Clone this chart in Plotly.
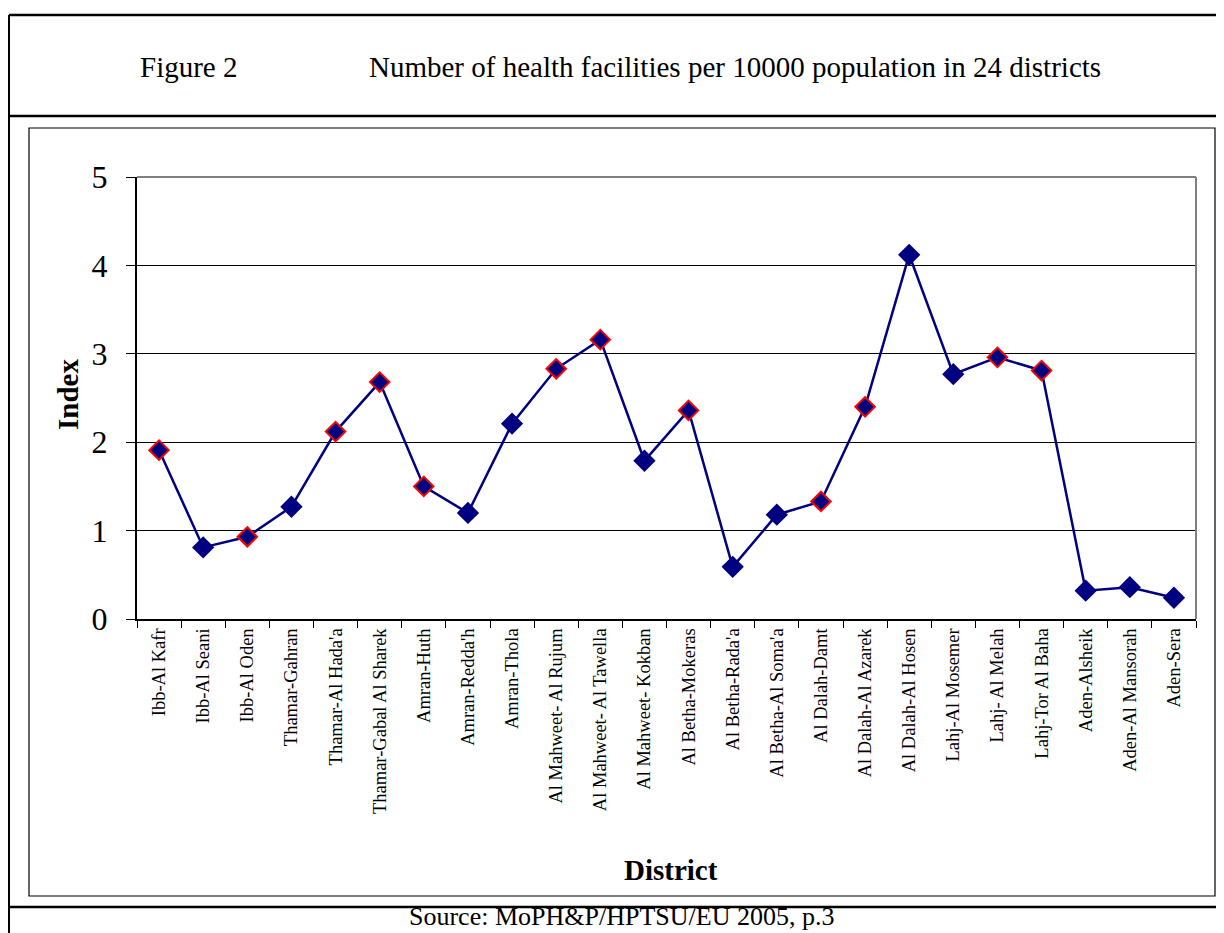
import plotly.graph_objects as go

districts = ["Ibb-Al Kafr", "Ibb-Al Seani", "Ibb-Al Oden", "Thamar-Gahran", "Thamar-Al Hada'a",
             "Thamar-Gabal Al Sharek", "Amran-Huth", "Amran-Redda'h", "Amran-Thola",
             "Al Mahweet- Al Rujum", "Al Mahweet- Al Tawella", "Al Mahweet- Kokban",
             "Al Betha-Mokeras", "Al Betha-Rada'a", "Al Betha-Al Soma'a", "Al Dalah-Damt",
             "Al Dalah-Al Azarek", "Al Dalah-Al Hosen", "Lahj-Al Mosemer", "Lahj- Al Melah",
             "Lahj-Tor Al Baha", "Aden-Alsheik", "Aden-Al Mansorah", "Aden-Sera"]
index_values = [1.91, 0.81, 0.93, 1.27, 2.12, 2.68, 1.50, 1.20, 2.21, 2.83, 3.16, 1.79,
                2.36, 0.59, 1.18, 1.33, 2.40, 4.12, 2.77, 2.96, 2.81, 0.32, 0.36, 0.24]
highlighted = [True, False, True, False, True, True, True, False, False, True, True, False,
               True, False, False, True, True, False, False, True, True, False, False, False]
y_ticks = [0, 1, 2, 3, 4, 5]

NAVY = "#000080"
SERIF = "Liberation Serif, Times New Roman, serif"

OFF = 8  # default page body margin
W, H = 1224, 933
L, R, T, B = 137, 1196, 177, 619

def px(x):
    return (x - L) / (R - L)

def py(y):
    return (B - y) / (B - T)

fig = go.Figure()
fig.add_trace(go.Scatter(
    x=districts, y=index_values, mode="lines+markers",
    line=dict(color=NAVY, width=2.5),
    marker=dict(symbol="diamond", size=15, color=NAVY,
                line=dict(color=["#ff0000" if h else NAVY for h in highlighted], width=2)),
    showlegend=False, hoverinfo="x+y"))

fig.update_layout(
    width=W - OFF, height=H - OFF,
    margin=dict(l=L - OFF, r=W - R, t=T - OFF, b=H - B, pad=0),
    paper_bgcolor="white", plot_bgcolor="white",
    font=dict(family=SERIF, color="black"),
    xaxis=dict(type="category", tickangle=-90, tickfont=dict(size=18.5, family=SERIF),
               ticks="outside", ticklen=7, tickcolor="black", tickson="boundaries",
               showgrid=False, showline=True, linecolor="black", linewidth=2,
               range=[-0.5, len(districts) - 0.5], fixedrange=True),
    yaxis=dict(range=[0, 5], tickvals=y_ticks, tickfont=dict(size=32, family=SERIF),
               ticks="outside", ticklen=9, tickcolor="black", ticklabelstandoff=12,
               showgrid=True, gridcolor="black", gridwidth=1,
               showline=True, linecolor="black", linewidth=2, zeroline=False, fixedrange=True),
)

shapes = []
# plot area gray border (top/right)
shapes.append(dict(type="line", xref="paper", yref="paper", x0=0, x1=1, y0=1, y1=1,
                   line=dict(color="#808080", width=2)))
shapes.append(dict(type="line", xref="paper", yref="paper", x0=1, x1=1, y0=0, y1=1,
                   line=dict(color="#808080", width=2)))
# inner chart frame
shapes.append(dict(type="rect", xref="paper", yref="paper", x0=px(29), x1=px(1215), y0=py(896), y1=py(128),
                   line=dict(color="black", width=1.2)))
# outer table lines
for yy in [15, 116, 907]:
    shapes.append(dict(type="line", xref="paper", yref="paper", x0=px(9), x1=px(1240), y0=py(yy), y1=py(yy),
                       line=dict(color="black", width=2.5)))
shapes.append(dict(type="line", xref="paper", yref="paper", x0=px(9), x1=px(9), y0=py(15), y1=py(950),
                   line=dict(color="black", width=2)))
fig.update_layout(shapes=shapes)

annotations = [
    dict(text="Figure 2", x=px(138), y=py(67), xanchor="left", yanchor="middle",
         font=dict(size=29, family=SERIF)),
    dict(text="Number of health facilities per 10000 population in 24 districts",
         x=px(367), y=py(67), xanchor="left", yanchor="middle", font=dict(size=29, family=SERIF)),
    dict(text="<b>Index</b>", x=px(68), y=py(395), xanchor="center", yanchor="middle", textangle=-90,
         font=dict(size=29, family=SERIF)),
    dict(text="<b>District</b>", x=px(671), y=py(870), xanchor="center", yanchor="middle",
         font=dict(size=29, family=SERIF)),
    dict(text="Source: MoPH&P/HPTSU/EU 2005, p.3", x=px(621), y=py(933), xanchor="center", yanchor="bottom",
         font=dict(size=26, family=SERIF)),
]
for a in annotations:
    a.update(xref="paper", yref="paper", showarrow=False)
fig.update_layout(annotations=annotations)

fig.write_html("out.html")
